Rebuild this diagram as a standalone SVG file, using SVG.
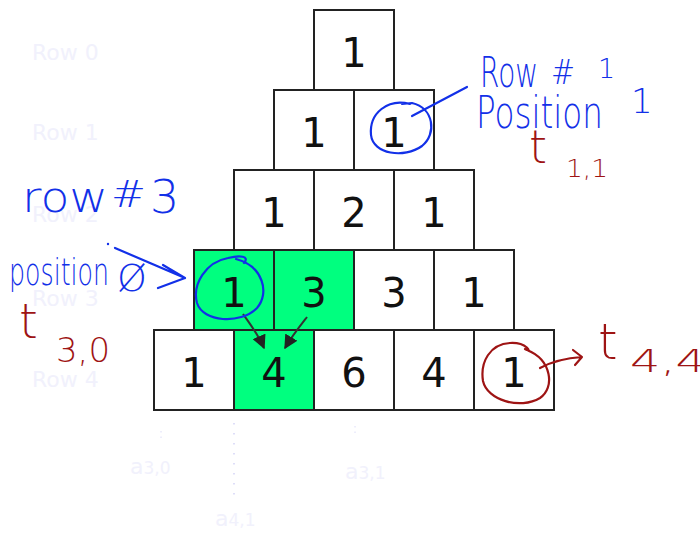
<svg xmlns="http://www.w3.org/2000/svg" width="700" height="534" viewBox="0 0 700 534">
<style>
.box{stroke:#222;stroke-width:2;fill:#fff}
.g{fill:#00ff7f}
.num{font-family:"DejaVu Sans",Verdana,sans-serif;font-size:40px;fill:#111;text-anchor:middle}
.faint{font-family:"DejaVu Sans",Verdana,sans-serif;font-size:22px;fill:#f1f1fc}
.hb{font-family:"DejaVu Sans",sans-serif;font-weight:200;fill:#1230e8}
.hr{font-family:"DejaVu Sans",sans-serif;font-weight:200;fill:#9e1414}
.pb{fill:none;stroke:#1230e8;stroke-width:2.2;stroke-linecap:round;stroke-linejoin:round}
.pr{fill:none;stroke:#9e1414;stroke-width:2.2;stroke-linecap:round;stroke-linejoin:round}
.arr{fill:none;stroke:#333;stroke-width:2;marker-end:url(#ah)}
</style>
<defs>
<marker id="ah" viewBox="0 0 10 10" refX="9" refY="5" markerWidth="7" markerHeight="7" orient="auto" markerUnits="strokeWidth">
<path d="M0 0 L10 5 L0 10 Z" fill="#222"/>
</marker>
</defs>
<rect width="700" height="534" fill="#fff"/>
<g id="faint-labels">
<text class="faint" x="32" y="60">Row 0</text>
<text class="faint" x="32" y="140">Row 1</text>
<text class="faint" x="32" y="222">Row 2</text>
<text class="faint" x="32" y="306">Row 3</text>
<text class="faint" x="32" y="387">Row 4</text>
<text class="faint" x="130" y="474">a<tspan font-size="17">3,0</tspan></text>
<text class="faint" x="345" y="479">a<tspan font-size="17">3,1</tspan></text>
<text class="faint" x="215" y="526">a<tspan font-size="17">4,1</tspan></text>
<path d="M234 423 V497" stroke="#c8c8f4" stroke-width="1.2" stroke-dasharray="1.5 8.5" fill="none"/>
<path d="M161 431 V442 M355 426 V433" stroke="#dcdcf8" stroke-width="1" stroke-dasharray="1.5 4" fill="none"/>
</g>
<g id="r0c0"><rect class="box" x="314" y="10" width="80" height="80"/><text class="num" x="354" y="67">1</text></g>
<g id="r1c0"><rect class="box" x="274" y="90" width="80" height="80"/><text class="num" x="314" y="147">1</text></g>
<g id="r1c1"><rect class="box" x="354" y="90" width="80" height="80"/><text class="num" x="394" y="147">1</text></g>
<g id="r2c0"><rect class="box" x="234" y="170" width="80" height="80"/><text class="num" x="274" y="227">1</text></g>
<g id="r2c1"><rect class="box" x="314" y="170" width="80" height="80"/><text class="num" x="354" y="227">2</text></g>
<g id="r2c2"><rect class="box" x="394" y="170" width="80" height="80"/><text class="num" x="434" y="227">1</text></g>
<g id="r3c0"><rect class="box g" x="194" y="250" width="80" height="80"/><text class="num" x="234" y="307">1</text></g>
<g id="r3c1"><rect class="box g" x="274" y="250" width="80" height="80"/><text class="num" x="314" y="307">3</text></g>
<g id="r3c2"><rect class="box" x="354" y="250" width="80" height="80"/><text class="num" x="394" y="307">3</text></g>
<g id="r3c3"><rect class="box" x="434" y="250" width="80" height="80"/><text class="num" x="474" y="307">1</text></g>
<g id="r4c0"><rect class="box" x="154" y="330" width="80" height="80"/><text class="num" x="194" y="387">1</text></g>
<g id="r4c1"><rect class="box g" x="234" y="330" width="80" height="80"/><text class="num" x="274" y="387">4</text></g>
<g id="r4c2"><rect class="box" x="314" y="330" width="80" height="80"/><text class="num" x="354" y="387">6</text></g>
<g id="r4c3"><rect class="box" x="394" y="330" width="80" height="80"/><text class="num" x="434" y="387">4</text></g>
<g id="r4c4"><rect class="box" x="474" y="330" width="80" height="80"/><text class="num" x="514" y="387">1</text></g>
<g id="connectors">
<path class="arr" d="M243 314 C250 324, 258 334, 264 348"/>
<path class="arr" d="M307 317 C300 326, 292 336, 285 348"/>
</g>
<g id="annotation-row1">
<path class="pb" d="M410 104 C388 98, 369 113, 371 135 C373 154, 404 159, 422 146 C437 134, 434 108, 412 103 L402 104"/>
<path class="pb" d="M412 116 L467 87"/>
<text class="hb" font-size="42" x="480" y="87" textLength="58" lengthAdjust="spacingAndGlyphs">Row</text>
<text class="hb" font-size="34" x="551" y="84" textLength="24" lengthAdjust="spacingAndGlyphs">#</text>
<text class="hb" font-size="27" x="598" y="78">1</text>
<text class="hb" font-size="44" x="476" y="128" textLength="127" lengthAdjust="spacingAndGlyphs">Position</text>
<text class="hb" font-size="34" x="631" y="113">1</text>
<text class="hr" font-size="46" x="529" y="163">t</text>
<text class="hr" font-size="24" x="566" y="177" textLength="42" lengthAdjust="spacingAndGlyphs">1,1</text>
</g>
<g id="annotation-row3">
<text class="hb" font-size="42" x="22" y="212" textLength="86" lengthAdjust="spacingAndGlyphs">row</text>
<text class="hb" font-size="38" x="111" y="207" textLength="35" lengthAdjust="spacingAndGlyphs">#</text>
<text class="hb" font-size="46" x="150" y="213">3</text>
<text class="hb" font-size="38" x="9" y="285" textLength="100" lengthAdjust="spacingAndGlyphs">position</text>
<text class="hb" font-size="38" x="117" y="291">Ø</text>
<circle cx="108" cy="244" r="1.2" fill="#1230e8"/>
<path class="pb" d="M115 248 L185 278 M163 265 L185 278 L158 288"/>
<path class="pb" d="M244 263 C250 256, 240 255, 228 258 C206 262, 192 284, 197 303 C203 322, 240 325, 257 308 C270 293, 263 266, 236 259"/>
<text class="hr" font-size="48" x="19" y="338">t</text>
<text class="hr" font-size="34" x="56" y="362" textLength="54" lengthAdjust="spacingAndGlyphs">3,0</text>
</g>
<g id="annotation-row4">
<path class="pr" d="M525 349 C533 354, 527 342, 510 343 C490 344, 480 362, 483 381 C487 400, 520 410, 540 398 C555 388, 552 360, 527 350"/>
<path class="pr" d="M540 368 C553 361, 566 358, 582 357 M573 350 L582 357 L575 365"/>
<text class="hr" font-size="50" x="598" y="359">t</text>
<text class="hr" font-size="32" x="630" y="372" textLength="76" lengthAdjust="spacingAndGlyphs">4,4</text>
</g>
</svg>
